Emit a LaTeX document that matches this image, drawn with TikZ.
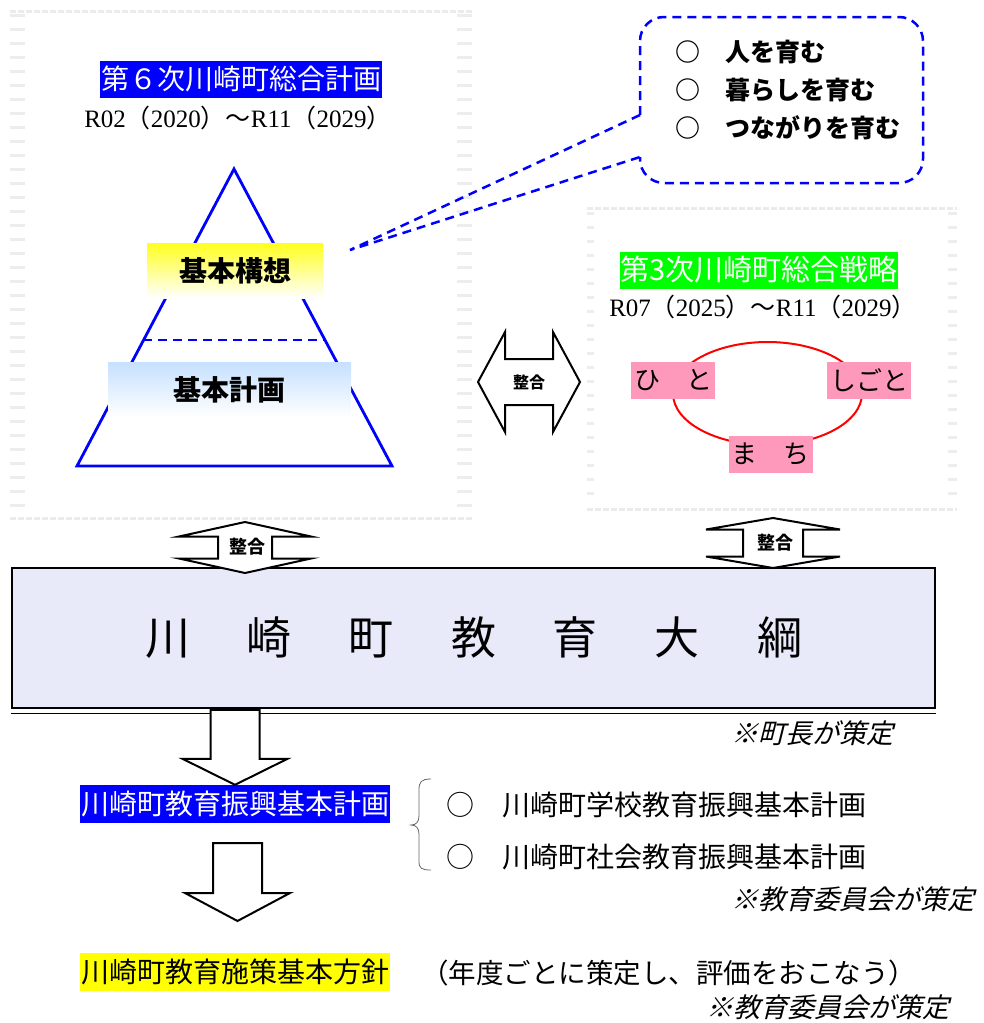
\documentclass[tikz,border=0pt]{standalone}
\usepackage{fontspec}
\setmainfont{Liberation Serif}
\newfontfamily\jp{Noto Sans CJK JP}
\newfontfamily\jpit{Noto Sans CJK JP}[FakeSlant=0.25]

\definecolor{planblue}{RGB}{0,0,255}
\definecolor{senryakugreen}{RGB}{0,255,0}
\definecolor{hitopink}{RGB}{255,153,187}
\definecolor{kousouyellow}{RGB}{255,255,30}
\definecolor{keikakublue}{RGB}{198,224,255}
\definecolor{taikoufill}{RGB}{232,234,250}
\definecolor{housinyellow}{RGB}{255,255,0}

\begin{document}
\begin{tikzpicture}[x=1pt,y=-1pt,
    every node/.style={inner sep=0pt},
    frameside/.style={draw=black!7, dash pattern=on 3pt off 11pt},
    frameline/.style={draw=black!8, line width=3pt, dash pattern=on 6pt off 2pt},
    title/.style={text=white, font=\jp\fontsize{28}{28}\selectfont, minimum height=37pt},
    period/.style={font=\fontsize{25}{25}\selectfont},
    pyramid/.style={draw=planblue, line width=2.8pt},
    level/.style={font=\jp\bfseries\fontsize{28}{28}\selectfont, minimum height=55pt, bottom color=white},
    callout/.style={draw=planblue, line width=2.5pt, dash pattern=on 9pt off 6pt},
    ring/.style={draw=red, line width=2pt},
    pinkbox/.style={fill=hitopink, font=\jp\fontsize{26}{26}\selectfont, minimum width=84pt, minimum height=37pt},
    blockarrow/.style={draw=black, line width=2pt, fill=white},
    seigou/.style={font=\jp\bfseries\fontsize{#1}{#1}\selectfont},
    plan/.style={font=\jp\fontsize{28}{28}\selectfont, minimum width=310pt, minimum height=38pt},
    listitem/.style={font=\jp\fontsize{28}{28}\selectfont, anchor=west},
    note/.style={font=\jpit\fontsize{27}{27}\selectfont},
    brace/.style={draw=black!60, line width=0.8pt}
]
\useasboundingbox (0,0) rectangle (984,1023);

% frames
\draw[frameline] (10,11) -- (472,11);
\draw[frameline] (10,518) -- (472,518);
\draw[frameside, line width=15pt] (17.5,14) -- (17.5,514);
\draw[frameside, line width=15pt] (464.5,14) -- (464.5,514);
\draw[frameline] (587,208) -- (957,208);
\draw[frameline] (587,509) -- (957,509);
\draw[frameside, line width=7pt] (590,212) -- (590,506);
\draw[frameside, line width=9pt] (952,212) -- (952,506);

% sogo keikaku
\node[title, fill=planblue, minimum width=282pt] (title6) at (241,79) {第６次川崎町総合計画};
\node[period] (period6) at (238,118) {R02{\jp （}2020{\jp ）～}R11{\jp （}2029{\jp ）}};

\draw[pyramid] (234,169) -- (392,466) -- (77,466) -- cycle;
\draw[pyramid, dash pattern=on 9pt off 6pt] (143,340) -- (325,340);
\node[level, top color=kousouyellow, minimum width=176pt] (kousou) at (235,270.5) {基本構想};
\node[level, top color=keikakublue, minimum width=243pt] (keikaku) at (229.5,389.5) {基本計画};

% callout
\coordinate (tip) at (350,250);
\draw[callout, rounded corners=24pt] (640,115) -- (640,17) -- (923,17) -- (923,183) -- (640,183) -- (640,157);
\draw[callout] (640,115) -- (tip) -- (640,157);
\node[anchor=west, align=left, font=\jp\bfseries\fontsize{25}{38}\selectfont] (ikumu) at (675,90)
    {○　人を育む\\○　暮らしを育む\\○　つながりを育む};

% sogo senryaku
\node[title, fill=senryakugreen, minimum width=268pt, font=\jp\fontsize{29}{29}\selectfont] (title3) at (759,270) {第3次川崎町総合戦略};
\node[period] (period3) at (763,307) {R07{\jp （}2025{\jp ）～}R11{\jp （}2029{\jp ）}};
\draw[ring] (767.5,393.5) ellipse [x radius=94.5, y radius=51.5];
\node[pinkbox] (hito) at (673,380.5) {ひ　と};
\node[pinkbox] (shigoto) at (869,380.5) {しごと};
\node[pinkbox] (machi) at (770.5,454.5) {ま　ち};

% seigou arrow between the plans
\draw[blockarrow, shift={(529,382)}] (-51,0) -- (-24,-50) -- (-24,-23) -- (24,-23) -- (24,-50) -- (51,0)
    -- (24,50) -- (24,23) -- (-24,23) -- (-24,50) -- cycle;
\node[seigou=16] (seigouc) at (529,382) {整合};

% taikou
\node[draw=black, line width=2.5pt, fill=taikoufill, minimum width=923pt, minimum height=140pt,
    font=\jp\fontsize{45}{45}\selectfont] (taikou) at (473.5,638)
    {川\hspace{57pt}崎\hspace{57pt}町\hspace{57pt}教\hspace{57pt}育\hspace{57pt}大\hspace{57pt}綱};
\draw[line width=1.5pt] ([yshift=-4pt]taikou.south west) -- ([yshift=-4pt]taikou.south east);

\draw[blockarrow, shift={(245,547.5)}] (0,-25.5) -- (66,-11) -- (27,-11) -- (27,11) -- (66,11) -- (0,25.5)
    -- (-66,11) -- (-27,11) -- (-27,-11) -- (-66,-11) -- cycle;
\node[seigou=18] (seigoul) at (247,547) {整合};
\draw[blockarrow, shift={(773,543)}] (0,-25) -- (67,-13.5) -- (30,-13.5) -- (30,13.5) -- (67,13.5) -- (0,25)
    -- (-67,13.5) -- (-30,13.5) -- (-30,-13.5) -- (-67,-13.5) -- cycle;
\node[seigou=18] (seigour) at (775,543) {整合};

\node[note] (note1) at (812,733) {※町長が策定};

% shinkou keikaku
\node[plan, fill=planblue, text=white] (shinkou) at (235,804) {川崎町教育振興基本計画};
\draw[blockarrow, shift={(shinkou.north)}] (-24.5,-75) -- (-24.5,-26) -- (-52.5,-26) -- (0,0) -- (52.5,-26)
    -- (24.5,-26) -- (24.5,-75) -- cycle;
\draw[brace] (431,779) .. controls (421,779) and (419,782) .. (419,790) -- (419,816)
    .. controls (419,822) and (416,825) .. (411,825) .. controls (416,825) and (419,828) .. (419,834)
    -- (419,861) .. controls (419,868) and (421,870) .. (431,870);
\node[listitem] (gakkou) at (446,805) {○　川崎町学校教育振興基本計画};
\node[listitem] (shakai) at (446,857) {○　川崎町社会教育振興基本計画};
\node[note] (note2) at (853,899) {※教育委員会が策定};

% housin
\draw[blockarrow, shift={(237.5,843)}] (-24.5,0) -- (-24.5,50) -- (-52.5,50) -- (0,78) -- (52.5,50)
    -- (24.5,50) -- (24.5,0) -- cycle;
\node[plan, fill=housinyellow] (housin) at (235,971.5) {川崎町教育施策基本方針};
\node[anchor=west, font=\jp\fontsize{27.5}{27.5}\selectfont] (nendo) at (421,973) {（年度ごとに策定し、評価をおこなう）};
\node[note] (note3) at (828,1007) {※教育委員会が策定};
\end{tikzpicture}
\end{document}
